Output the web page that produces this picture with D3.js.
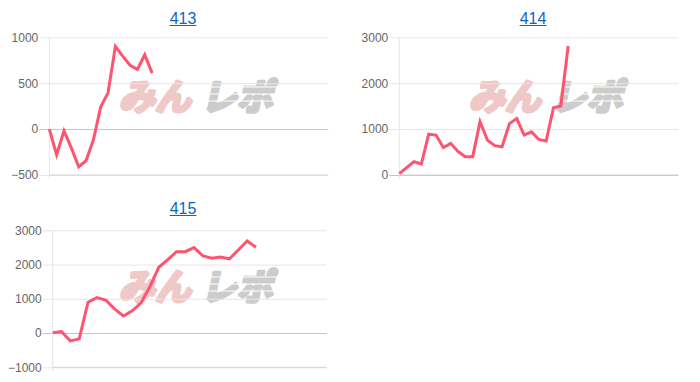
<!DOCTYPE html>
<html>
<head>
<meta charset="utf-8">
<script src="https://cdn.jsdelivr.net/npm/d3@7"></script>
<style>
  body { margin: 0; background: #fff; }
  svg { display: block; }
  .tick text { font-family: "Liberation Sans", Arial, sans-serif; font-size: 12px; fill: #666; }
</style>
</head>
<body>
<svg width="700" height="382"></svg>
<script>
// machine numbers (chart titles)
var titles = ["413", "414", "415"];

// x slots on each chart (no labels shown)
var slots413 = d3.range(39);
var slots414 = d3.range(39);
var slots415 = d3.range(32);

// y tick values
var ticks413 = [-500, 0, 500, 1000];
var ticks414 = [0, 1000, 2000, 3000];
var ticks415 = [-1000, 0, 1000, 2000, 3000];

// series values
var values413 = [0, -280, -20, -205, -410, -345, -120, 240, 395, 900, 795, 695, 650, 810, 610];
var values414 = [30, 160, 290, 240, 890, 870, 600, 690, 510, 400, 400, 1160, 760, 640, 615,
                 1120, 1230, 870, 940, 775, 740, 1465, 1505, 2810];
var values415 = [10, 40, -230, -170, 900, 1035, 965, 705, 500, 650, 880, 1355, 1920, 2135,
                 2375, 2375, 2495, 2250, 2185, 2220, 2165, 2425, 2690, 2505];

var charts = [
  {title: titles[0], slots: slots413, ticks: ticks413, values: values413,
   ox: 0, oy: 0, left: 49.3, right: 328.3, top: 37.3, bottom: 175},
  {title: titles[1], slots: slots414, ticks: ticks414, values: values414,
   ox: 350, oy: 0, left: 49.3, right: 328.3, top: 37.3, bottom: 175},
  {title: titles[2], slots: slots415, ticks: ticks415, values: values415,
   ox: 0, oy: 190, left: 52.7, right: 326.7, top: 40.3, bottom: 177.3}
];

var svg = d3.select("svg");

charts.forEach(function(c) {
  var g = svg.append("g").attr("transform", "translate(" + c.ox + "," + c.oy + ")");

  //scales
  var x = d3.scalePoint().domain(c.slots).range([c.left, c.right]);
  var y = d3.scaleLinear()
            .domain([d3.min(c.ticks), d3.max(c.ticks)])
            .range([c.bottom, c.top]);

  //title link
  var t = g.append("text")
           .attr("x", 183)
           .attr("y", 23.5)
           .attr("text-anchor", "middle")
           .style("font-family", "'Liberation Sans', Arial, sans-serif")
           .style("font-size", "16px")
           .style("fill", "#0b66c3")
           .text(c.title);
  var bb = t.node().getBBox();
  g.append("line")
   .attr("x1", bb.x).attr("x2", bb.x + bb.width)
   .attr("y1", 25.5).attr("y2", 25.5)
   .attr("stroke", "#0b66c3").attr("stroke-width", 1);

  //watermark
  var wm = g.append("g").attr("transform", "translate(119,110) skewX(-12)");
  wm.append("text")
    .attr("x", 0)
    .style("font-family", "'Noto Sans CJK JP', sans-serif")
    .style("font-size", "36px").style("font-weight", "bold")
    .attr("fill", "#efc8c8").attr("stroke", "#efc8c8").attr("stroke-width", 3.5)
    .attr("stroke-linejoin", "round")
    .text("みん");
  wm.append("text")
    .attr("x", 82)
    .style("font-family", "'Noto Sans CJK JP', sans-serif")
    .style("font-size", "36px").style("font-weight", "bold")
    .attr("fill", "#cccccc").attr("stroke", "#cccccc").attr("stroke-width", 3.5)
    .attr("stroke-linejoin", "round")
    .text("レポ");
  [-23, -16, -9].forEach(function(dy) {
    wm.append("line").attr("x1", 78).attr("x2", 170).attr("y1", dy).attr("y2", dy)
      .attr("stroke", "#fff").attr("stroke-width", 1.2);
  });

  //y axis with gridlines
  var yAxis = g.append("g")
               .attr("transform", "translate(" + c.left + ",0)")
               .call(d3.axisLeft(y)
                       .tickValues(c.ticks)
                       .tickSize(-(c.right - c.left))
                       .tickPadding(11)
                       .tickFormat(d3.format("d")));
  yAxis.select(".domain").remove();
  yAxis.selectAll(".tick line")
       .attr("x1", -10)
       .attr("stroke", function(d) { return d === 0 ? "#c4c4c4" : "#e6e6e6"; });
  yAxis.selectAll(".tick text").attr("x", -11);

  //left border
  g.append("line")
   .attr("x1", c.left).attr("x2", c.left)
   .attr("y1", c.top).attr("y2", c.bottom + 4)
   .attr("stroke", "#e6e6e6");
  //bottom border
  g.append("line")
   .attr("x1", c.left).attr("x2", c.right)
   .attr("y1", c.bottom).attr("y2", c.bottom)
   .attr("stroke", "#d2d2d2");

  //line
  var line = d3.line()
               .x(function(d, i) { return x(c.slots[i]); })
               .y(function(d) { return y(d); });
  g.append("path")
   .datum(c.values)
   .attr("d", line)
   .attr("fill", "none")
   .attr("stroke", "#ff5470")
   .attr("stroke-width", 3)
   .attr("stroke-linejoin", "miter");
});
</script>
</body>
</html>
